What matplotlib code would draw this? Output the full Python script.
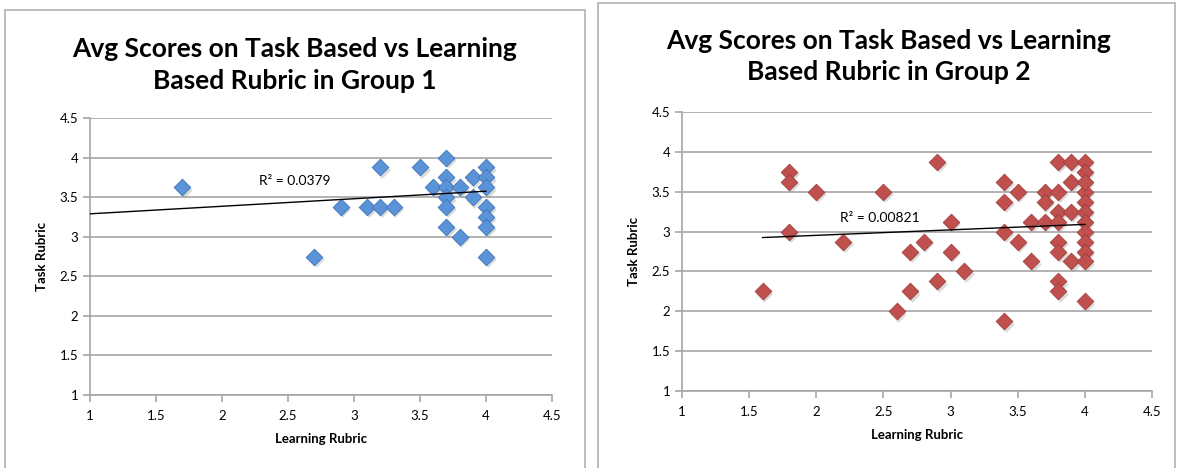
import numpy as np
import matplotlib
matplotlib.use("Agg")
import matplotlib.pyplot as plt
from matplotlib.patches import Rectangle

plt.rcParams['font.family'] = ['Lato', 'DejaVu Sans']

# group 1
g1_learning = [1.7, 2.7, 2.9, 3.1, 3.2, 3.2, 3.3, 3.5, 3.6,
               3.7, 3.7, 3.7, 3.7, 3.7, 3.7, 3.8, 3.8, 3.9, 3.9,
               4.0, 4.0, 4.0, 4.0, 4.0, 4.0, 4.0]
g1_task = [3.625, 2.75, 3.375, 3.375, 3.875, 3.375, 3.375, 3.875, 3.625,
           4.0, 3.75, 3.625, 3.5, 3.375, 3.125, 3.625, 3.0, 3.75, 3.5,
           3.875, 3.75, 3.625, 3.375, 3.25, 3.125, 2.75]
g1_trend = [3.194, 0.0953]      # intercept, slope of the excel trendline
g1_trend_x = [1.0, 4.0]
g1_r2 = "R² = 0.0379"

# group 2
g2_learning = [1.6, 1.8, 1.8, 1.8, 2.0, 2.2, 2.5, 2.6, 2.7, 2.7, 2.8,
               2.9, 2.9, 3.0, 3.0, 3.1, 3.4, 3.4, 3.4, 3.4, 3.5, 3.5,
               3.6, 3.6, 3.7, 3.7, 3.7,
               3.8, 3.8, 3.8, 3.8, 3.8, 3.8, 3.8, 3.8,
               3.9, 3.9, 3.9, 3.9,
               4.0, 4.0, 4.0, 4.0, 4.0, 4.0, 4.0, 4.0, 4.0, 4.0, 4.0, 4.0]
g2_task = [2.25, 3.75, 3.625, 3.0, 3.5, 2.875, 3.5, 2.0, 2.75, 2.25, 2.875,
           3.875, 2.375, 3.125, 2.75, 2.5, 3.625, 3.375, 3.0, 1.875, 3.5, 2.875,
           3.125, 2.625, 3.5, 3.375, 3.125,
           3.875, 3.5, 3.25, 3.125, 2.875, 2.75, 2.375, 2.25,
           3.875, 3.625, 3.25, 2.625,
           3.875, 3.75, 3.5, 3.375, 3.25, 3.125, 3.0, 2.875, 2.75, 2.625, 2.125, 3.625]
g2_trend = [2.815, 0.0688]
g2_trend_x = [1.6, 4.0]
g2_r2 = "R² = 0.00821"

ticks = [1, 1.5, 2, 2.5, 3, 3.5, 4, 4.5]
tick_labels = ['1', '1.5', '2', '2.5', '3', '3.5', '4', '4.5']

W, H = 1179, 468
fig = plt.figure(figsize=(W / 100, H / 100), dpi=100)

# chart frames
fig.patches.append(Rectangle((5/W, -0.05), 580/W, 1 - 10/H + 0.05,
                             transform=fig.transFigure, fill=False,
                             edgecolor='#b0b0b0', lw=1.2))
fig.patches.append(Rectangle((598/W, -0.05), 577/W, 1 - 3/H + 0.05,
                             transform=fig.transFigure, fill=False,
                             edgecolor='#b0b0b0', lw=1.2))


def draw(ax, x, y, color, edge, trend, trend_x, r2, r2_pos):
    ax.set_xlim(1, 4.5)
    ax.set_ylim(1, 4.5)
    ax.set_xticks(ticks)
    ax.set_xticklabels(tick_labels)
    ax.set_yticks(ticks)
    ax.set_yticklabels(tick_labels)
    ax.yaxis.grid(True, color='#a6a6a6', lw=1.2)
    ax.set_axisbelow(True)
    for s in ['top', 'right']:
        ax.spines[s].set_visible(False)
    for s in ['left', 'bottom']:
        ax.spines[s].set_color('#a6a6a6')
        ax.spines[s].set_linewidth(1.2)
    ax.tick_params(colors='#a6a6a6', labelcolor='black', labelsize=9.5,
                   length=5, width=1.2, direction='out')
    ax.tick_params(axis='x', pad=6)

    # soft shadow then markers
    ax.scatter(np.array(x) + 0.012, np.array(y) - 0.03, marker='D', s=72,
               color='#999999', alpha=0.35, linewidths=0, zorder=2)
    ax.scatter(x, y, marker='D', s=72, color=color, edgecolors=edge,
               linewidths=0.6, zorder=3)

    xs = np.array(trend_x)
    ax.plot(xs, trend[0] + trend[1] * xs, color='black', lw=1, zorder=4)
    ax.text(r2_pos[0], r2_pos[1], r2, fontsize=10, ha='center', va='center')

    ax.set_xlabel('Learning Rubric', fontsize=9.5, fontweight='bold', labelpad=8)
    ax.set_ylabel('Task Rubric', fontsize=9.5, fontweight='bold', labelpad=8)


def title(cx, y1, y2, group):
    fig.text(cx / W, 1 - y1 / H, 'Avg Scores on Task Based vs Learning',
             ha='center', va='baseline', fontsize=19, fontweight='bold')
    fig.text(cx / W, 1 - y2 / H, 'Based Rubric in Group ' + group,
             ha='center', va='baseline', fontsize=19, fontweight='bold')


ax1 = fig.add_axes([90/W, 1 - 395/H, 462/W, 277/H])
draw(ax1, g1_learning, g1_task, '#5b93d8', '#3f74b8',
     g1_trend, g1_trend_x, g1_r2, (2.55, 3.70))
title(295, 57, 89, '1')

ax2 = fig.add_axes([682/W, 1 - 391/H, 470/W, 279/H])
draw(ax2, g2_learning, g2_task, '#c0504d', '#a03e3b',
     g2_trend, g2_trend_x, g2_r2, (2.47, 3.17))
title(889, 49, 80, '2')

fig.savefig('out.png', dpi=100)
